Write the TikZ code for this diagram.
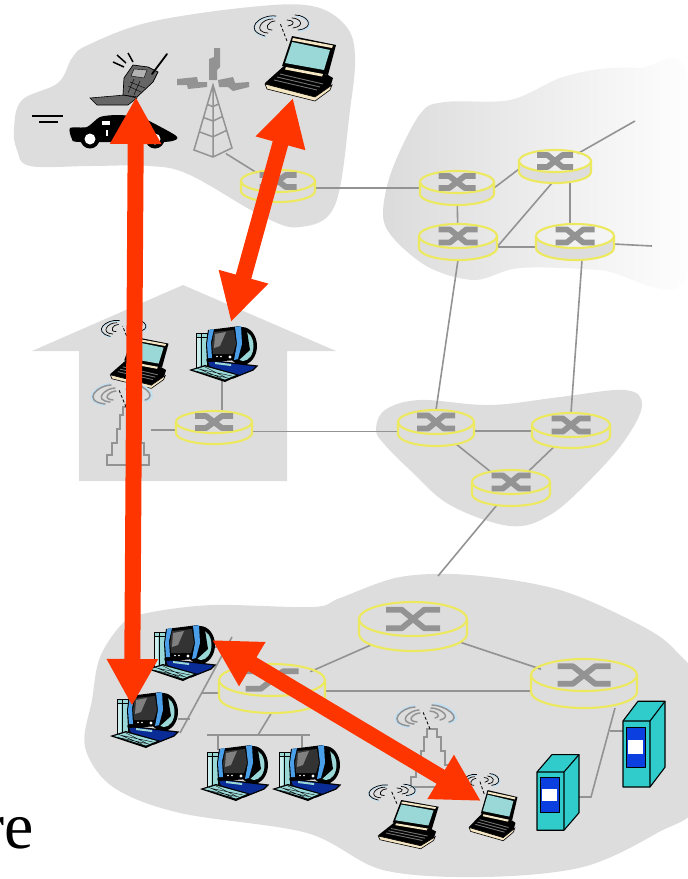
\documentclass[tikz,border=0pt]{standalone}
\usepackage{fontspec}
\setmainfont{Liberation Serif}
\usetikzlibrary{arrows.meta,shapes.geometric}
\definecolor{cloudgray}{HTML}{DDDDDD}
\definecolor{ringyellow}{HTML}{EDE95F}
\definecolor{wiregray}{HTML}{939393}
\definecolor{bolt}{HTML}{FF3500}
\definecolor{teal1}{HTML}{9AD8D8}
\definecolor{navy}{HTML}{0A2C96}
\definecolor{skyb}{HTML}{4A9FE8}
\definecolor{cream}{HTML}{F6E7C4}
\definecolor{srvteal}{HTML}{30CCCC}
\definecolor{srvblue}{HTML}{0C3FE0}
\definecolor{glow}{HTML}{BFE0F5}
\tikzset{
  x=1pt,y=-1pt,
  cloud/.style={fill=cloudgray,draw=none},
  wire/.style={draw=wiregray,line width=1.6pt},
  anchorbox/.style={ellipse,inner sep=0pt,outer sep=0pt,draw=none},
  bigarrow/.style={draw=bolt,line width=16pt,{Triangle[length=47pt,width=48pt,fill=bolt]}-{Triangle[length=47pt,width=48pt,fill=bolt]}},
  pc/.pic={
    \fill[teal1,draw=black,line width=.8pt] (-27,-21) rectangle (-16,15);
    \fill[teal1!50!white] (-26,-16) rectangle (-23,14);
    \draw[black,line width=.5pt] (-27,-17) -- (-16,-17) (-22,-21) -- (-22,15);
    \fill[black] (19,-8) ellipse[x radius=15,y radius=19];
    \fill[teal1] (20,-8) ellipse[x radius=10.5,y radius=15];
    \fill[navy,draw=black,line width=1.2pt] (-16,6) -- (34,12) -- (30,16) -- (10,24) -- (-13,15) -- cycle;
    \fill[black] (-34,16) -- (-18,11) -- (17,21) -- (2,28) -- cycle;
    \fill[teal1] (-30,16) -- (-18,12.5) -- (13,21) -- (2,25.5) -- cycle;
    \draw[black,line width=.4pt] (-26,17.5) -- (5,24) (-22,15.5) -- (9,22) (-25,14.5) -- (-2,24) (-18,13) -- (4,24);
    \fill[black] (-15,-24) -- (17,-28) -- (24,-23) -- (27,-4) -- (16,6) -- (-16,8) -- (-17,-10) -- cycle;
    \fill[skyb] (-14,-24) -- (-9,-25) -- (-12,-12) -- (-11,4) -- (-15,4) -- (-16,-10) -- cycle;
    \fill[skyb] (12,-27) -- (18,-28) -- (19,-10) -- (15,5) -- (11,6) -- (14,-10) -- cycle;
    \fill[black!80] (-9,-22) -- (11,-24) -- (13,-10) -- (10,0) -- (-10,0) -- (-11,-10) -- cycle;
    \fill[black!50] (-8,-20) -- (3,-22) -- (-3,-8) -- (-9,-6) -- cycle;
    \fill[white] (7,3) circle[radius=1.7] (-6,2.5) circle[radius=.9] (-2,2.5) circle[radius=.9];
    \fill[teal1] (-8,8) -- (8,10) -- (8,12) -- (-8,10) -- cycle;
  },
  laptop/.pic={
    \fill[black] (-15,-3) -- (28,7) -- (33,10) -- (30,20) -- (15,32) -- (-33,20) -- (-35,15) -- cycle;
    \fill[cream,draw=black,line width=.6pt] (-35,16) -- (15,29) -- (32,17) -- (30,22) -- (15,33) -- (-33,21) -- cycle;
    \draw[black!55,line width=.9pt] (-23,9) -- (20,19) (-26,12) -- (17,22) (-20,6) -- (23,16);
    \fill[black] (-8,-32) -- (36,-23) -- (28,7) -- (-18,-2) -- cycle;
    \fill[cream] (-7,-30) -- (33,-22.5) -- (32,-20) -- (-8,-27.5) -- cycle;
    \fill[teal1] (-8,-26) -- (30,-18) -- (24,2) -- (-15,-5) -- cycle;
    \fill[cream] (-14,-1) -- (23,6) -- (22,8.5) -- (-15,1.5) -- cycle;
    \draw[black,line width=.8pt,densely dashed] (-13,-27) -- (-20,-45);
    \draw[glow,line width=1.6pt] (-24,-51) .. controls (-41,-53) and (-58,-37) .. (-34,-31);
    \draw[glow,line width=1.6pt] (-4,-52) .. controls (9,-52) and (17,-39) .. (-1,-37);
    \draw[black,line width=.7pt,line cap=round]
      (-24,-52) .. controls (-40,-54) and (-58,-38) .. (-35,-32)
      (-27,-49) .. controls (-38,-50) and (-48,-36) .. (-32,-35)
      (-25,-47) .. controls (-32,-47) and (-37,-38) .. (-28,-38)
      (-5,-53) .. controls (8,-53) and (16,-40) .. (-2,-38)
      (-8,-50) .. controls (0,-50) and (6,-42) .. (-7,-40)
      (-13,-48) .. controls (-7,-48) and (-3,-44) .. (-12,-42);
  },
  steptower/.pic={
    \draw[wiregray,line width=1.4pt,line join=miter] (-21,58) -- (-21,48) -- (-16,48) -- (-16,36) -- (-11,36) -- (-11,22) -- (-8,22) -- (-8,8) -- (-5,8) -- (-5,0) -- (5,0) -- (5,8) -- (9,8) -- (9,22) -- (13,22) -- (13,36) -- (16,36) -- (16,48) -- (21,48) -- (21,58) -- cycle;
    \draw[black,line width=.8pt,densely dashed] (-2,0) -- (-9,-17);
    \draw[glow,line width=2pt] (-17,-23) .. controls (-30,-23) and (-50,-6) .. (-23,-2);
    \draw[glow,line width=2pt] (1,-25) .. controls (16,-25) and (34,-10) .. (17,-6);
    \draw[wiregray,line width=1.5pt,line cap=round]
      (-17,-22) .. controls (-30,-22) and (-47,-6) .. (-23,-3)
      (-13,-19) .. controls (-22,-19) and (-36,-7) .. (-18,-5)
      (-12,-16) .. controls (-18,-16) and (-27,-8) .. (-15,-7)
      (0,-24) .. controls (13,-24) and (31,-11) .. (17,-7)
      (-1,-21) .. controls (8,-21) and (21,-12) .. (8,-9)
      (-2,-18) .. controls (3,-18) and (11,-13) .. (3,-11);
  },
  server/.pic={
    \fill[srvteal,draw=black,line width=1.1pt,line join=round] (0,0) -- (15,-18) -- (42,-18) -- (42,42) -- (27,60) -- (0,60) -- cycle;
    \draw[black,line width=1.1pt,line join=round] (0,0) -- (27,0) -- (42,-18) (27,0) -- (27,60);
    \fill[srvblue,draw=black,line width=.9pt] (3.5,6) rectangle (22,42);
    \fill[white] (5,17) rectangle (20,30);
  }
}
% router: centre, x radius, y radius, depth
\newcommand{\routerdraw}[4]{%
  \fill[cloudgray] (#1) ++(-#2,0) -- ++(0,#4) arc[start angle=180,end angle=360,x radius=#2,y radius=-#3] -- ++(0,-#4) arc[start angle=0,end angle=180,x radius=#2,y radius=#3] -- cycle;
  \draw[ringyellow,line width=2.1pt] (#1) ++(-#2,0) -- ++(0,#4) arc[start angle=180,end angle=360,x radius=#2,y radius=-#3] -- ++(0,-#4);
  \draw[ringyellow,line width=2.1pt] (#1) ellipse[x radius=#2,y radius=#3];
  \begin{scope}[shift={(#1)},x=#2*.5pt,y=-#3*.78pt]
    \draw[wiregray,line width=5.8pt,line join=bevel] (-1,-.7) -- (-.42,-.7) -- (.42,.7) -- (1,.7);
    \draw[wiregray,line width=5.8pt,line join=bevel] (-1,.7) -- (-.42,.7) -- (.42,-.7) -- (1,-.7);
  \end{scope}
}
\begin{document}
\begin{tikzpicture}
\useasboundingbox (0,0) rectangle (688,879);
\clip (0,0) rectangle (688,879);
% clouds
\fill[cloud] plot[smooth cycle,tension=.6] coordinates {(14,128) (22,100) (58,83) (72,58) (88,45) (150,22) (250,7) (312,6) (345,25) (355,55) (350,110) (335,205) (300,227) (262,216) (190,175) (150,166) (90,166) (30,166) (17,150)};
\shade[left color=black!14,right color=white] plot[smooth cycle,tension=.55] coordinates {(383,215) (392,170) (420,114) (445,102) (510,100) (560,78) (600,69) (640,68) (687,74) (687,278) (600,270) (520,268) (475,280) (430,268) (395,240)};
\fill[cloud] (183,285) -- (32,351) -- (79,351) -- (79,481) -- (287,481) -- (287,351) -- (336,351) -- cycle;
\fill[cloud] plot[smooth cycle,tension=.6] coordinates {(376,430) (385,410) (420,400) (490,405) (560,397) (625,390) (642,405) (625,440) (590,480) (550,515) (510,526) (450,505) (410,470) (385,445)};
\fill[cloud] plot[smooth cycle,tension=.55] coordinates {(85,747) (92,700) (100,657) (123,623) (147,613) (213,605) (313,607) (340,598) (400,577) (470,575) (560,590) (640,625) (675,650) (700,690) (700,800) (657,833) (583,867) (483,877) (383,870) (307,833) (180,813) (113,787)};
\node[font=\fontsize{66}{66}\selectfont,anchor=base east,inner sep=0pt] (ret) at (34,848) {re};

% node anchors
\foreach \n/\x/\y/\rx/\ry/\d in {r0/278/181/37/11/10,ra/457/182/37/11/12,rb/555/161/36/11/11,rc/458/236/39/12/12,rd/575/236/39/12/12,rh/214/422/38/11/11,rl/436/422/38/12/12,rr/571/425/39/12/11,rm/511/482/39/12/12,bt/413/619/54/17/15,bl/272/680/53/16/17,br/584/675/53/16/17}{
  \node[anchorbox,minimum width=2*\rx*1pt,minimum height=2*\ry*1pt+\d*1pt] (\n) at (\x,\y+\d/2) {};
}
\node[anchorbox,minimum size=2pt] (tw) at (225,153) {};
\node[anchorbox,minimum size=2pt] (hpc) at (222,380) {};
\node[anchorbox,minimum size=2pt] (htw) at (150,430) {};
\coordinate (fb) at (635,121);
\coordinate (fd) at (652,246);
\coordinate (fm) at (438,576);
\coordinate (l1) at (232,637);
\coordinate (l2) at (180,733);
\coordinate (j1) at (202,693);
\coordinate (j2) at (178,719);
\coordinate (j3) at (213,647);
\coordinate (p1) at (222,647);
\coordinate (p2) at (190,719);
\coordinate (bar1) at (207,735);
\coordinate (bar2) at (310,735);
\coordinate (barj) at (258,735);
\coordinate (d1a) at (218,735);
\coordinate (d1b) at (218,750);
\coordinate (d2a) at (302,735);
\coordinate (d2b) at (302,748);
\coordinate (s1) at (579,797);
\coordinate (s1j) at (591,797);
\coordinate (s2j) at (610,731);
\coordinate (s2) at (623,731);

% connectors
\draw[wire] (tw) -- (r0);
\draw[wire] ([yshift=-2pt]r0.east) -- (ra.west);
\draw[wire] (ra.east) -- ([yshift=-2.5pt]rb.west);
\draw[wire] (ra) -- (rc);
\draw[wire] ([yshift=-5pt]rc.east) -- ([yshift=-5pt]rd.west);
\draw[wire] ([xshift=15pt]rb.south) -- ([xshift=-5pt]rd.north);
\draw[wire] ([yshift=-5pt]rc.east) -- ([xshift=-3pt]rb.south);
\draw[wire] (rb) -- (fb);
\draw[wire] (rd) -- (fd);
\draw[wire] (rc.south) -- (rl.north);
\draw[wire] ([xshift=7pt]rd.south) -- (rr.north);
\draw[wire] ([yshift=-4pt]rh.east) -- ([yshift=-3.5pt]rl.west);
\draw[wire] (hpc) -- ([xshift=8pt]rh.north);
\draw[wire] (htw) -- ([yshift=-2.5pt]rh.west);
\draw[wire] ([yshift=-3pt]rl.east) -- ([yshift=-.5pt]rr.west);
\draw[wire] (rl) -- (rm);
\draw[wire] (rm) -- (rr);
\draw[wire] (rm) -- (fm);
\draw[wire] (bt) -- (bl);
\draw[wire] (bt) -- (br);
\draw[wire] ([yshift=-2.5pt]bl.east) -- ([yshift=-7.5pt]br.west);
\draw[wire] (l1) -- (l2);
\draw[wire] (j1) -- ([yshift=-4.5pt]bl.west);
\draw[wire] (j2) -- (p2);
\draw[wire] (j3) -- (p1);
\draw[wire] ([yshift=1pt]bl.south) -- (barj);
\draw[wire] (bar1) -- (bar2);
\draw[wire] (d1a) -- (d1b);
\draw[wire] (d2a) -- (d2b);
\draw[wire] ([xshift=31pt]br.south) -- (s1j) -- (s1);
\draw[wire] (s2j) -- (s2);

% routers
\routerdraw{278,181}{37}{11}{10}
\routerdraw{457,182}{37}{11}{12}
\routerdraw{555,161}{36}{11}{11}
\routerdraw{458,236}{39}{12}{12}
\routerdraw{575,236}{39}{12}{12}
\routerdraw{214,422}{38}{11}{11}
\routerdraw{436,422}{38}{12}{12}
\routerdraw{571,425}{39}{12}{11}
\routerdraw{511,482}{39}{12}{12}
\routerdraw{413,619}{54}{17}{15}
\routerdraw{272,680}{53}{16}{17}
\routerdraw{584,675}{53}{16}{17}

% lattice tower with bolts
\begin{scope}[wiregray,line width=1.5pt]
  \draw (213,85) -- (194,150) -- (213,157) -- (232,148) -- cycle (213,85) -- (213,157);
  \foreach \t in {.3,.5,.72}{
    \draw ({213-19*\t},{85+65*\t}) -- (213,{85+72*\t}) -- ({213+19*\t},{85+63*\t});
  }
  \fill (214,48) -- (220,48) -- (220,67) -- (217,70) -- (217,80) -- (209,80) -- (209,59) -- (214,57) -- cycle;
  \fill (177,79) -- (197,77) -- (198,82) -- (207,82) -- (207,87) -- (188,89) -- (187,85) -- (177,85) -- cycle;
  \fill (218,80) -- (233,77) -- (235,83) -- (249,82) -- (249,87) -- (233,91) -- (228,87) -- (219,87) -- cycle;
\end{scope}

% car, speed lines, phone
\draw[black,line width=1.2pt] (32,116) -- (63,116) (39,122) -- (58,122);
\fill[black] plot[smooth cycle,tension=.4] coordinates {(70,128) (87,127) (100,117) (117,115) (140,117) (157,125) (175,135) (177,139) (163,142) (80,142) (72,139)};
\foreach \cx in {90,155}{
  \fill[black] (\cx,139) circle[radius=9.5];
  \fill[white] (\cx,139) circle[radius=5.5];
}
\fill[white] (102,121) rectangle (110,125);
\fill[white] (106,130) rectangle (108,136);
\fill[black!60,draw=black,line width=.6pt] (90,98) -- (125,95) -- (137,98) -- (128,105) -- (97,105) -- cycle;
\fill[black!60,draw=black,line width=.7pt] (124,78) -- (133,65) -- (148,67) -- (158,72) -- (153,82) -- (137,97) -- (123,95) -- cycle;
\fill[black!30,draw=black,line width=.4pt] (134,69) -- (147,70) -- (144,78) -- (131,76) -- cycle;
\draw[black,line width=.4pt] (130,82) -- (145,88) (128,86) -- (141,92) (134,79) -- (128,93) (140,81) -- (134,95);
\draw[black,line width=1.8pt,line cap=round] (152,74) -- (167,54);
\draw[black,line width=1.5pt] (113,62) -- (124,67) (117,55) -- (126,63) (128,53) -- (133,62);

% end devices
\pic at (300,68) {laptop};
\pic[xscale=.82,yscale=.8] at (139,362) {laptop};
\pic at (223,354) {pc};
\pic at (128,407) {steptower};
\pic at (432,729) {steptower};
\pic at (181,653) {pc};
\pic at (144,720) {pc};
\pic at (234,773) {pc};
\pic at (306,773) {pc};
\pic[xscale=.85,yscale=.75] at (408,824) {laptop};
\pic[xscale=.68,yscale=.78] at (493,815) {laptop};
\pic[yscale=.97] at (537,772) {server};
\pic[yscale=1.1] at (623,721) {server};

% big arrows
\coordinate (a1t) at (136,97);
\coordinate (a1b) at (132,706);
\coordinate (a2t) at (293,98);
\coordinate (a2b) at (231,322);
\coordinate (a3t) at (212,640);
\coordinate (a3b) at (481,801);
\draw[bigarrow] (a1t) -- (a1b);
\draw[bigarrow] (a2t) -- (a2b);
\draw[bigarrow] (a3t) -- (a3b);
\end{tikzpicture}
\end{document}
